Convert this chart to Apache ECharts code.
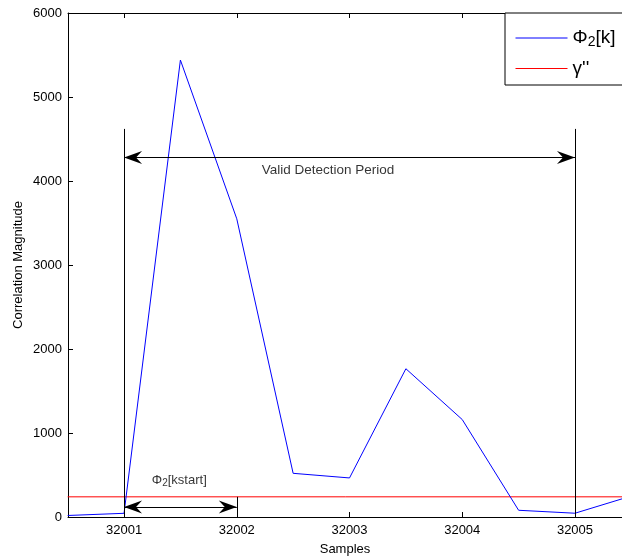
<!DOCTYPE html>
<html><head><meta charset="utf-8">
<script src="https://cdn.jsdelivr.net/npm/echarts@6/dist/echarts.min.js"></script>
<style>html,body{margin:0;padding:0;background:#fff}#c{width:622px;height:557px}</style>
</head><body><div id="c"></div>
<script>
// Data
var samples = [32000.5, 32001, 32001.5, 32002, 32002.5, 32003, 32003.5, 32004, 32004.5, 32005, 32005.5];
var phiValues = [18, 44, 5440, 3550, 520, 465, 1765, 1160, 80, 45, 250];
var thresholdX = [32000.5, 32005.5];
var thresholdValue = 240;
var xTicks = [32001, 32002, 32003, 32004, 32005];
var yTicks = [0, 1000, 2000, 3000, 4000, 5000, 6000];
var periodStart = 32001, periodEnd = 32005, periodTop = 4620, periodArrowY = 4280;
var kstartStart = 32001, kstartEnd = 32002, kstartArrowY = 119;
var textPeriod = [32002.81, 4131];
var textKstart = [32001.49, 440];

var F = "'Liberation Sans', Arial, sans-serif";
var chart = echarts.init(document.getElementById('c'), null, {renderer: 'canvas'});
var xMin = 32000.503, xMax = 32005.417;
var ARROW = 'path://M5,0 L10,18 L5,12 L0,18 Z';
function arrowEnd(x, y) {
  return {coord: [x, y], symbol: ARROW, symbolSize: [13, 18], symbolOffset: [0, 9]};
}

var option = {
  animation: false,
  backgroundColor: '#fff',
  textStyle: {fontFamily: F},
  grid: {left: 68, top: 13, right: 0, bottom: 40, containLabel: false, outerBoundsMode: 'none'},
  legend: {
    left: 505, top: 13, orient: 'vertical',
    data: [
      {name: 'phi', lineStyle: {color: '#0000ff', width: 1}, itemStyle: {color: '#0000ff', opacity: 0, borderWidth: 0}},
      {name: 'gamma', lineStyle: {color: '#ff0000', width: 1}, itemStyle: {color: '#ff0000', opacity: 0, borderWidth: 0}}
    ],
    itemWidth: 52, itemHeight: 14, itemGap: 10,
    padding: [9, 30, 7, 10],
    borderColor: '#000', borderWidth: 1, borderRadius: 0,
    backgroundColor: '#fff',
    formatter: function (n) { return n === 'phi' ? '{a|Φ}{s|2}{a|[k]}' : '{a|γ\'\'}'; },
    textStyle: {
      fontFamily: F, color: '#000',
      rich: {
        a: {fontSize: 19, fontFamily: F, color: '#000', lineHeight: 22},
        s: {fontSize: 14, fontFamily: F, color: '#000', verticalAlign: 'bottom', lineHeight: 15, padding: [13, 0, 0, 0]}
      }
    }
  },
  xAxis: [{
    type: 'value', min: xMin, max: xMax, position: 'bottom',
    name: 'Samples', nameLocation: 'middle', nameGap: 26, nameMoveOverlap: false,
    nameTextStyle: {fontFamily: F, fontSize: 13, color: '#000'},
    axisLine: {show: true, onZero: false, lineStyle: {color: '#000', width: 1}},
    axisTick: {show: true, inside: true, length: 5, customValues: xTicks, lineStyle: {color: '#000'}},
    axisLabel: {show: true, customValues: xTicks, fontFamily: F, fontSize: 13, color: '#000', margin: 7, formatter: function (v) { return String(v); }},
    splitLine: {show: false}
  }, {
    type: 'value', min: xMin, max: xMax, position: 'top',
    axisLine: {show: true, onZero: false, lineStyle: {color: '#000', width: 1}},
    axisTick: {show: true, inside: true, length: 5, customValues: xTicks, lineStyle: {color: '#000'}},
    axisLabel: {show: false},
    splitLine: {show: false}
  }],
  yAxis: {
    type: 'value', min: 0, max: 6000, interval: 1000,
    name: 'Correlation Magnitude', nameLocation: 'middle', nameGap: 43, nameMoveOverlap: false,
    nameTextStyle: {fontFamily: F, fontSize: 13, color: '#000'},
    axisLine: {show: true, onZero: false, lineStyle: {color: '#000', width: 1}},
    axisTick: {show: true, inside: true, length: 5, customValues: yTicks, lineStyle: {color: '#000'}},
    axisLabel: {customValues: yTicks, fontFamily: F, fontSize: 13, color: '#000', margin: 6, formatter: function (v) { return String(v); }},
    splitLine: {show: false}
  },
  series: [{
    name: 'phi', type: 'line', xAxisIndex: 0,
    data: samples.map(function (x, i) { return [x, phiValues[i]]; }),
    showSymbol: false, symbol: 'none',
    lineStyle: {color: '#0000ff', width: 1}, itemStyle: {color: '#0000ff'},
    clip: true, z: 3
  }, {
    name: 'gamma', type: 'line', xAxisIndex: 0,
    data: thresholdX.map(function (x) { return [x, thresholdValue]; }),
    showSymbol: false, symbol: 'none',
    lineStyle: {color: '#ff0000', width: 1}, itemStyle: {color: '#ff0000'},
    clip: true, z: 2
  }, {
    name: 'annot', type: 'line', xAxisIndex: 0, data: [],
    markLine: {
      silent: true, animation: false, precision: 5,
      label: {show: false},
      symbol: ['none', 'none'],
      lineStyle: {color: '#000', width: 1, type: 'solid'},
      emphasis: {disabled: true},
      data: [
        [{coord: [periodStart, 0]}, {coord: [periodStart, periodTop]}],
        [{coord: [periodEnd, 0]}, {coord: [periodEnd, periodTop]}],
        [{coord: [kstartEnd, 0]}, {coord: [kstartEnd, thresholdValue]}],
        [arrowEnd(periodStart, periodArrowY), arrowEnd(periodEnd, periodArrowY)],
        [arrowEnd(kstartStart, kstartArrowY), arrowEnd(kstartEnd, kstartArrowY)]
      ]
    }
  }, {
    name: 'labels', type: 'scatter', xAxisIndex: 0,
    symbolSize: 0, silent: true,
    data: [
      {value: textPeriod, label: {formatter: 'Valid Detection Period'}},
      {value: textKstart, label: {formatter: '{a|Φ}{s|2}{a|[kstart]}'}}
    ],
    label: {
      show: true, position: 'inside', fontFamily: F, fontSize: 13.5, color: '#000',
      rich: {
        a: {fontSize: 13, fontFamily: F, color: '#000', lineHeight: 16},
        s: {fontSize: 10, fontFamily: F, color: '#000', verticalAlign: 'bottom', lineHeight: 10, padding: [9, 0, 0, 0]}
      }
    }
  }]
};
chart.setOption(option);
</script></body></html>
